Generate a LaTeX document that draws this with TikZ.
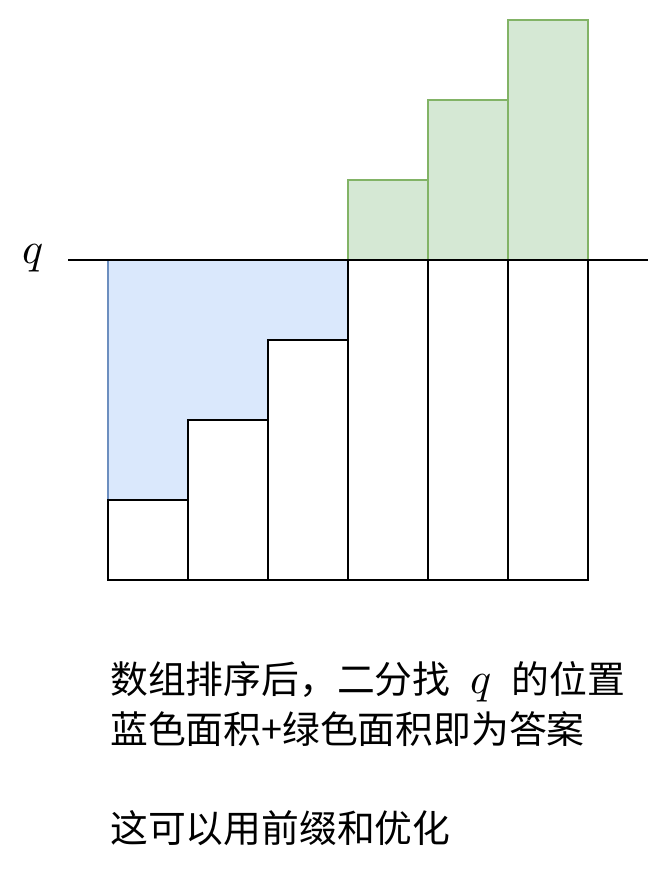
\documentclass[tikz,border=0pt]{standalone}
\usepackage{fontspec}
\usepackage{unicode-math}
\setmathfont{Latin Modern Math}
\newfontfamily\cjk{Noto Sans CJK SC}
\definecolor{blueFill}{HTML}{DAE8FC}
\definecolor{blueLine}{HTML}{6C8EBF}
\definecolor{greenFill}{HTML}{D5E8D4}
\definecolor{greenLine}{HTML}{82B366}
\newcommand{\bigq}{{\fontsize{44}{48}\selectfont$q$}}
\tikzset{
  barbox/.style={draw=black, line width=1.8pt, fill=white},
  greenbar/.style={draw=greenLine, line width=1.8pt, fill=greenFill},
  bluearea/.style={draw=blueLine, line width=1.8pt, fill=blueFill},
  note/.style={anchor=west, inner sep=0pt, font=\cjk\fontsize{37.8}{42}\selectfont}
}
\begin{document}
\begin{tikzpicture}[x=1pt, y=-1pt]
\useasboundingbox (0,0) rectangle (668,884);
% area below q
\draw [bluearea] (108,260) -- (348,260) -- (348,340) -- (268,340) -- (268,420)
  -- (188,420) -- (188,500) -- (108,500) -- cycle;
% sorted bars
\foreach \x/\top in {108/500, 188/420, 268/340, 348/260, 428/260, 508/260}
  \draw [barbox, fill opacity=0] (\x,\top) rectangle ++(80,580-\top);
% area above q
\foreach \x/\top in {348/180, 428/100, 508/20}
  \draw [greenbar] (\x,\top) rectangle ++(80,260-\top);
\draw [line width=1.8pt] (68,260) -- (648,260);
\node (q) at (33,258) {\bigq};
\node [note] (line1) at (110,682) {数组排序后，二分找\hspace{20pt}\bigq\hspace{20pt}的位置};
\node [note] (line2) at (110,729) {蓝色面积+绿色面积即为答案};
\node [note] (line3) at (110,828) {这可以用前缀和优化};
\end{tikzpicture}
\end{document}
